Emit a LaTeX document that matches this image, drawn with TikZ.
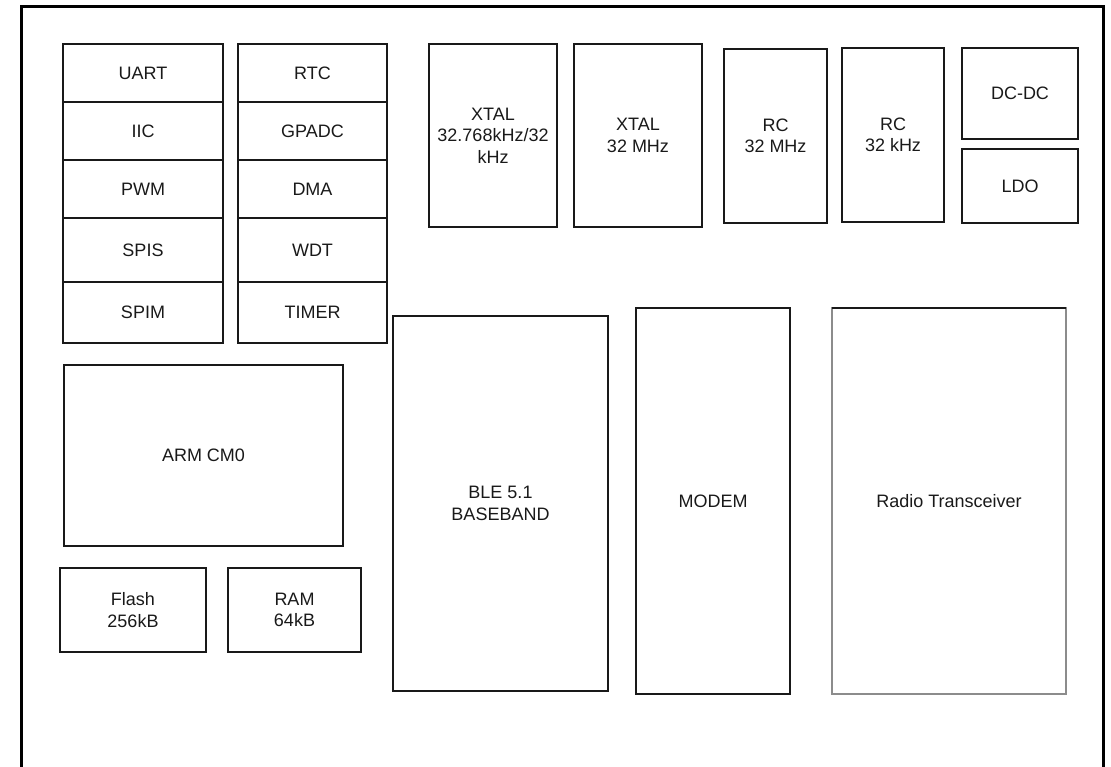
\documentclass[tikz,border=0pt]{standalone}
\usepackage{fontspec}
\setmainfont{Liberation Sans}
\newcommand\mkblk[6]{\node[blk, minimum width={#4-#2}, minimum height={#5-#3}] (#1) at ({(#2+#4)/2},{(#3+#5)/2}) {#6};}
\begin{document}
\begin{tikzpicture}[x=1pt,y=-1pt,
  blk/.style={draw=black!90, line width=1.3pt, inner sep=0pt, outer sep=0pt, align=center,
    font=\fontsize{18}{21.5}\selectfont, text=black!90},
  frame/.style={draw=black, line width=3pt}]
\useasboundingbox (0,0) rectangle (1111,766);
\begin{scope}
\clip (0,0) rectangle (1111,766);
\draw[frame] (21.5,6) rectangle (1103,800);
\end{scope}
% left column
\mkblk{uart}{63}{44}{223}{102}{UART}
\mkblk{iic}{63}{102}{223}{160}{IIC}
\mkblk{pwm}{63}{160}{223}{218}{PWM}
\mkblk{spis}{63}{218}{223}{282}{SPIS}
\mkblk{spim}{63}{282}{223}{343}{SPIM}
% second column
\mkblk{rtc}{238}{44}{387}{102}{RTC}
\mkblk{gpadc}{238}{102}{387}{160}{GPADC}
\mkblk{dma}{238}{160}{387}{218}{DMA}
\mkblk{wdt}{238}{218}{387}{282}{WDT}
\mkblk{timer}{238}{282}{387}{343}{TIMER}
% top row
\mkblk{xtala}{429}{44}{557}{227}{XTAL\\32.768kHz/32\\kHz}
\mkblk{xtalb}{574}{44}{702}{227}{XTAL\\32 MHz}
\mkblk{rca}{724}{49}{827}{223}{RC\\32 MHz}
\mkblk{rcb}{842}{48}{944}{222}{RC\\32 kHz}
\mkblk{dcdc}{962}{48}{1078}{139}{DC-DC}
\mkblk{ldo}{962}{149}{1078}{223}{LDO}
% lower
\mkblk{arm}{64}{365}{343}{546}{ARM CM0}
\mkblk{flash}{60}{568}{206}{652}{Flash\\256kB}
\mkblk{ram}{228}{568}{361}{652}{RAM\\64kB}
\mkblk{ble}{393}{316}{608}{691}{BLE 5.1\\BASEBAND}
\mkblk{modem}{636}{308}{790}{694}{MODEM}
\node[blk, draw=black!45, minimum width=234, minimum height=386] (radio) at (949,501) {Radio Transceiver};
\draw[black!90, line width=1.3pt] (radio.north west) -- (radio.north east);
\end{tikzpicture}
\end{document}
